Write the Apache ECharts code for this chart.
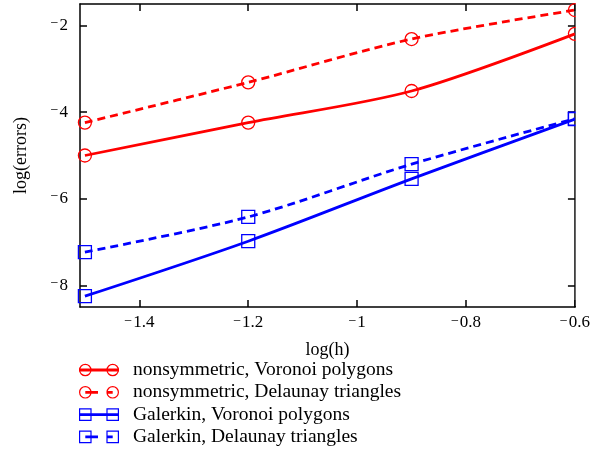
<!DOCTYPE html>
<html><head><meta charset="utf-8">
<script src="https://cdn.jsdelivr.net/npm/echarts@6/dist/echarts.min.js"></script>
<style>html,body{margin:0;padding:0;background:#fff}#c{width:593px;height:454px}</style>
</head><body><div id="c"></div>
<script>
var logH = [-1.5, -1.2, -0.9, -0.6];
var nonsymVoronoi = [-5.0, -4.24, -3.51, -2.19];
var nonsymDelaunay = [-4.24, -3.31, -2.31, -1.64];
var galerkinVoronoi = [-8.25, -6.98, -5.54, -4.16];
var galerkinDelaunay = [-7.23, -6.42, -5.20, -4.15];
var xTicks = [-1.4, -1.2, -1, -0.8, -0.6];
var yTicks = [-8, -6, -4, -2];
var seriesNames = ['nonsymmetric, Voronoi polygons','nonsymmetric, Delaunay triangles','Galerkin, Voronoi polygons','Galerkin, Delaunay triangles'];

function pairs(ys){ return logH.map(function(x,i){return [x, ys[i]];}); }
var font = 'Liberation Serif';
function fmt(v){ return v < 0 ? '{m|\u2212}{d|' + Math.abs(v) + '}' : '{d|' + v + '}'; }
var rich = {m:{fontFamily:font, fontSize:14, color:'#000', padding:[0,1,4,0]},
            d:{fontFamily:font, fontSize:17, color:'#000'}};

// legend icon paths (40 x 14 box)
function ring(cx, cy, R, r){
  return 'M'+(cx-R)+' '+cy+' A'+R+' '+R+' 0 1 1 '+(cx+R)+' '+cy+' A'+R+' '+R+' 0 1 1 '+(cx-R)+' '+cy+' Z '+
         'M'+(cx-r)+' '+cy+' A'+r+' '+r+' 0 1 0 '+(cx+r)+' '+cy+' A'+r+' '+r+' 0 1 0 '+(cx-r)+' '+cy+' Z ';
}
function box(cx, cy, H, h){
  return 'M'+(cx-H)+' '+(cy-H)+' L'+(cx+H)+' '+(cy-H)+' L'+(cx+H)+' '+(cy+H)+' L'+(cx-H)+' '+(cy+H)+' Z '+
         'M'+(cx-h)+' '+(cy-h)+' L'+(cx-h)+' '+(cy+h)+' L'+(cx+h)+' '+(cy+h)+' L'+(cx+h)+' '+(cy-h)+' Z ';
}
function bar(x0, x1){ return 'M'+x0+' 5.6 L'+x1+' 5.6 L'+x1+' 8.4 L'+x0+' 8.4 Z '; }
var icons = [
  'path://' + bar(0,40) + ring(6.3,7,6.3,5.1) + ring(33.7,7,6.3,5.1),
  'path://' + bar(6.3,19) + bar(27.5,33.7) + ring(6.3,7,6.3,5.1) + ring(33.7,7,6.3,5.1),
  'path://' + bar(0,40) + box(6.3,7,6.3,5.1) + box(33.7,7,6.3,5.1),
  'path://' + bar(6.3,19) + bar(27.5,33.7) + box(6.3,7,6.3,5.1) + box(33.7,7,6.3,5.1)
];
var colors = ['#ff0000','#ff0000','#0000ff','#0000ff'];

var chart = echarts.init(document.getElementById('c'));
var axisLine = {show:true, onZero:false, lineStyle:{color:'#000', width:1.5}};
var tick = {show:true, inside:true, length:7, lineStyle:{color:'#000', width:1.5}};
function mkSeries(name, ys, color, dashed, sym){
  return {name:name, type:'line', data:pairs(ys), smooth:0.3, symbol:sym, symbolSize:13,
    showAllSymbol:true, clip:true,
    lineStyle:{color:color, width:2.8, type: dashed ? [8,5] : 'solid'},
    itemStyle:{color:'rgba(0,0,0,0)', borderColor:color, borderWidth:1.3}};
}
chart.setOption({
  animation:false,
  grid:{left:80, right:18, top:4, bottom:147, show:false},
  legend:{orient:'vertical', left:79, top:360, padding:0, height:94, itemWidth:40, itemHeight:14, itemGap:2.3,
    textStyle:{fontFamily:font, fontSize:19.5, lineHeight:19, color:'#000', padding:[0,0,0,9]},
    data:seriesNames.map(function(n,i){
      return {name:n, icon:icons[i], itemStyle:{color:colors[i], borderWidth:0}};
    })},
  xAxis:[{type:'value', position:'bottom', min:-1.509, max:-0.6,
    name:'log(h)', nameLocation:'middle', nameGap:34,
    nameTextStyle:{fontFamily:font, fontSize:18, color:'#000'},
    axisLine:axisLine, axisTick:Object.assign({customValues:xTicks}, tick),
    axisLabel:{customValues:xTicks, formatter:fmt, rich:rich, margin:7, color:'#000'},
    splitLine:{show:false}},
   {type:'value', position:'top', min:-1.509, max:-0.6,
    axisLine:axisLine, axisTick:Object.assign({customValues:xTicks}, tick),
    axisLabel:{show:false}, splitLine:{show:false}}],
  yAxis:[{type:'value', position:'left', min:-8.5, max:-1.5,
    name:'log(errors)', nameLocation:'middle', nameGap:50,
    nameTextStyle:{fontFamily:font, fontSize:18, color:'#000'},
    axisLine:axisLine, axisTick:Object.assign({customValues:yTicks}, tick),
    axisLabel:{customValues:yTicks, formatter:fmt, rich:rich, margin:12, color:'#000'},
    splitLine:{show:false}},
   {type:'value', position:'right', min:-8.5, max:-1.5,
    axisLine:axisLine, axisTick:Object.assign({customValues:yTicks}, tick),
    axisLabel:{show:false}, splitLine:{show:false}}],
  graphic:[{type:'rect', z:100, shape:{x:575.8, y:0, width:20, height:306}, style:{fill:'#fff'}}],
  series:[
    mkSeries(seriesNames[0], nonsymVoronoi, colors[0], false, 'circle'),
    mkSeries(seriesNames[1], nonsymDelaunay, colors[1], true, 'circle'),
    mkSeries(seriesNames[2], galerkinVoronoi, colors[2], false, 'rect'),
    mkSeries(seriesNames[3], galerkinDelaunay, colors[3], true, 'rect')
  ]
});
</script></body></html>
